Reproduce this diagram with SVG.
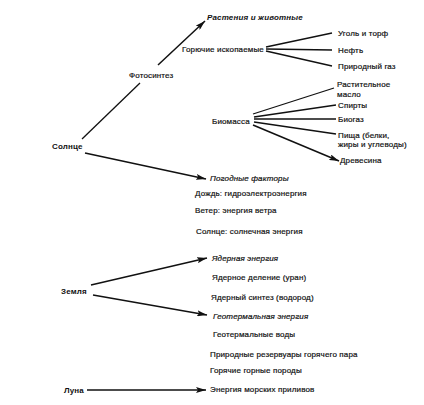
<svg xmlns="http://www.w3.org/2000/svg" width="424" height="405" viewBox="0 0 424 405">
<defs>
<marker id="ah" viewBox="0 0 10 6" refX="10" refY="3" markerWidth="10" markerHeight="6" markerUnits="userSpaceOnUse" orient="auto">
<path d="M0,0 L10,3 L0,6 L2,3 Z" fill="#111"/>
</marker>
</defs>
<style>
text{font-family:"Liberation Sans",Arial,sans-serif;font-size:8px;fill:#111;stroke:#111;stroke-width:0.2;letter-spacing:0.15px}
.b{font-weight:bold;stroke-width:0}
.i{font-style:italic}
.l{stroke:#111;stroke-width:1.3;fill:none}
.a{stroke:#111;stroke-width:1.5;fill:none;marker-end:url(#ah)}
</style>
<rect width="424" height="405" fill="#fff"/>
<g id="connectors">
<line class="l" x1="82" y1="139" x2="140" y2="83"/>
<line class="a" x1="158" y1="65" x2="205" y2="21"/>
<line class="l" x1="266" y1="47" x2="332" y2="33"/>
<line class="l" x1="266" y1="49" x2="332" y2="50"/>
<line class="l" x1="266" y1="51" x2="332" y2="66"/>
<line class="l" x1="253" y1="114" x2="334" y2="88"/>
<line class="l" x1="254" y1="117" x2="336" y2="105"/>
<line class="l" x1="254" y1="119" x2="336" y2="119"/>
<line class="l" x1="254" y1="122" x2="336" y2="134"/>
<line class="a" x1="253" y1="125" x2="339" y2="161"/>
<line class="a" x1="85" y1="153" x2="206" y2="179"/>
<line class="a" x1="91" y1="285" x2="207" y2="258"/>
<line class="a" x1="93" y1="295" x2="207" y2="315"/>
<line class="a" x1="87" y1="390" x2="206" y2="390"/>
</g>
<g id="sun"><text class="b" x="52" y="149">Солнце</text></g>
<g id="photo"><text x="129" y="78">Фотосинтез</text></g>
<g id="plants"><text class="b i" x="207" y="20">Растения и животные</text></g>
<g id="fossil"><text x="182" y="52">Горючие ископаемые</text></g>
<g id="coal"><text x="338" y="36">Уголь и торф</text></g>
<g id="oil"><text x="338" y="53">Нефть</text></g>
<g id="gas"><text x="338" y="69">Природный газ</text></g>
<g id="biomass"><text x="212" y="124">Биомасса</text></g>
<g id="vegoil"><text x="337" y="87">Растительное</text><text x="337" y="97">масло</text></g>
<g id="spirits"><text x="338" y="108">Спирты</text></g>
<g id="biogas"><text x="338" y="122">Биогаз</text></g>
<g id="food"><text x="338" y="138">Пища (белки,</text><text x="338" y="147">жиры и углеводы)</text></g>
<g id="wood"><text x="340" y="163">Древесина</text></g>
<g id="weather"><text class="i" x="210" y="181">Погодные факторы</text></g>
<g id="rain"><text x="195" y="196">Дождь: гидроэлектроэнергия</text></g>
<g id="wind"><text x="195" y="213">Ветер: энергия ветра</text></g>
<g id="solar"><text x="196" y="234">Солнце: солнечная энергия</text></g>
<g id="earth"><text class="b" x="61" y="294">Земля</text></g>
<g id="nuclear"><text class="i" x="212" y="261">Ядерная энергия</text></g>
<g id="fission"><text x="212" y="280">Ядерное деление (уран)</text></g>
<g id="fusion"><text x="211" y="300">Ядерный синтез (водород)</text></g>
<g id="geo"><text class="i" x="213" y="319">Геотермальная энергия</text></g>
<g id="geowater"><text x="213" y="337">Геотермальные воды</text></g>
<g id="steam"><text x="210" y="357">Природные резервуары горячего пара</text></g>
<g id="rocks"><text x="210" y="373">Горячие горные породы</text></g>
<g id="moon"><text class="b" x="64" y="393">Луна</text></g>
<g id="tides"><text x="210" y="392">Энергия морских приливов</text></g>
</svg>
